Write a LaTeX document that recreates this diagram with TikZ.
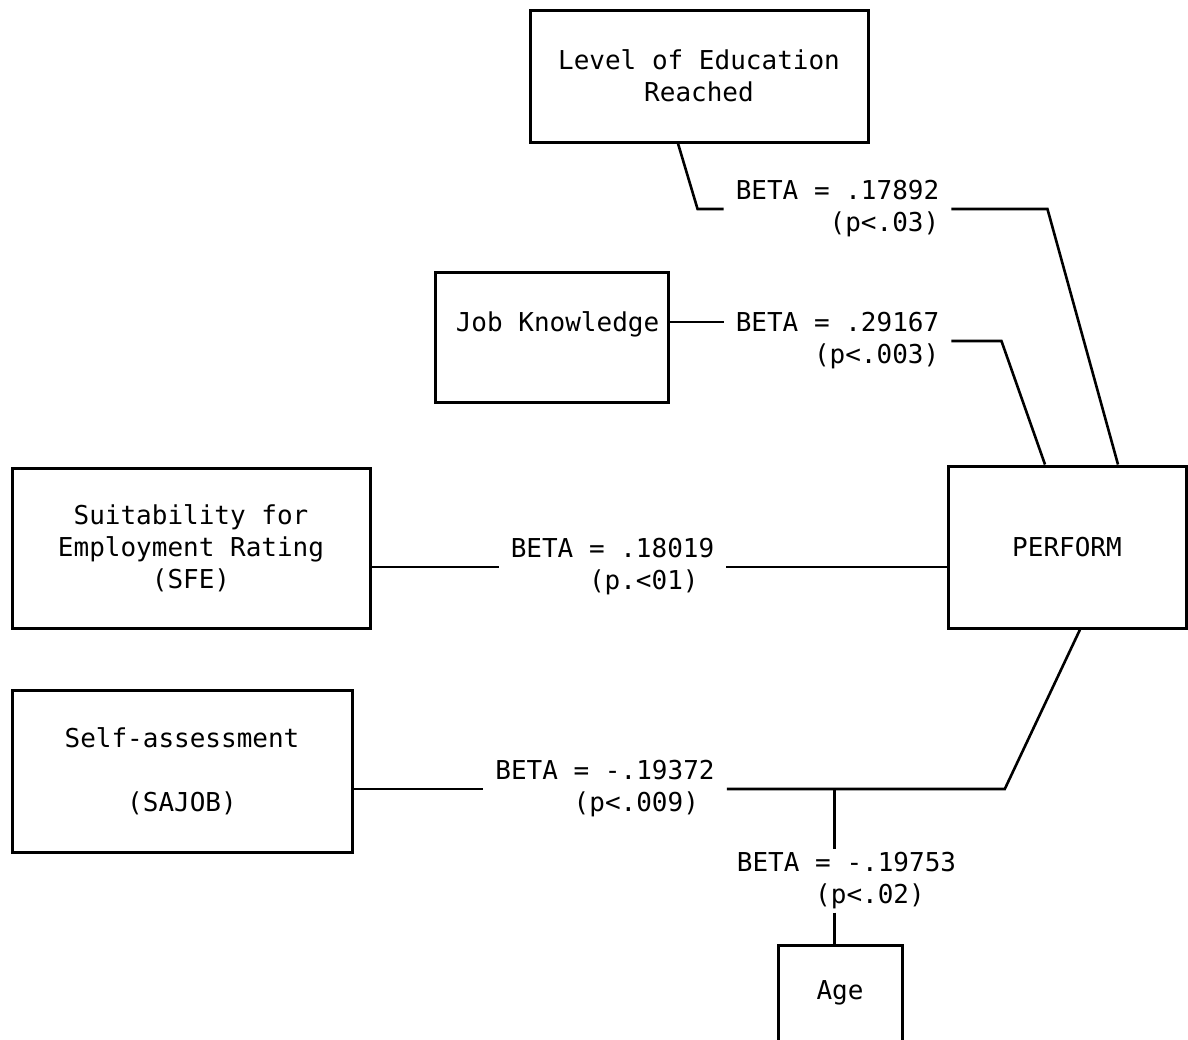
\documentclass[tikz,border=0pt]{standalone}
\usepackage{fontspec}
\setmainfont{DejaVu Sans Mono}
\usetikzlibrary{calc,positioning}
\tikzset{%
	block/.style = {draw, rectangle, line width=3pt, align=center, inner sep=0pt},
	beta/.style  = {align=right, inner xsep=12pt, inner ysep=3pt},
	link/.style  = {line width=2.6pt},
}

\begin{document}
\begin{tikzpicture}[x=1pt,y=-1pt,font=\fontsize{26}{32}\selectfont]
	\useasboundingbox (0,0) rectangle (1188,1039);
	
	% predictor boxes and the criterion
	\node[block, minimum width=338pt, minimum height=132pt] (edu) at (699,76) {Level of Education\\Reached};
	\node[block, minimum width=233pt, minimum height=130pt, text depth=30pt] (job) at (551.5,337) {\hspace*{12pt}Job Knowledge};
	\node[block, minimum width=358pt, minimum height=160pt] (sfe) at (191,548) {Suitability for\\Employment Rating\\(SFE)};
	\node[block, minimum width=340pt, minimum height=162pt] (sajob) at (182,771) {Self-assessment\\[32pt](SAJOB)};
	\node[block, minimum width=238pt, minimum height=162pt] (perform) at (1067,547) {PERFORM};
	\node[block, minimum width=124pt, minimum height=96pt] (age) at (840,993) {Age};
	
	% beta weights
	\node[beta] (b1) at (837.5,209) {BETA = .17892\\(p<.03)};
	\node[beta] (b2) at (837.5,341) {BETA = .29167\\(p<.003)};
	\node[beta] (b3) at (612.5,567) {BETA = .18019\\(p.<01)\hphantom{0}};
	\node[beta] (b4) at (605,789) {BETA = -.19372\\(p<.009)\hphantom{0}};
	\node[beta] (b5) at (846.5,881) {BETA = -.19753\\(p<.02)\hphantom{00}};
	
	\draw[link] ([xshift=-21pt]edu.south) -- ([xshift=-26pt]b1.west) -- (b1.west);
	\draw[link] (b1.east) -- ++(96,0) -- ([xshift=51pt]perform.north);
	\draw[link] ([yshift=15pt]job.east) -- ([yshift=19pt]b2.west);
	\draw[link] (b2.east) -- ++(50,0) -- ([xshift=-22pt]perform.north);
	\draw[link] (sfe.east |- b3.west) -- (b3.west);
	\draw[link] (b3.east) -- (b3.east -| perform.west);
	\draw[link] (sajob.east |- b4.west) -- (b4.west);
	\draw[link] (b4.east) -- ++(278,0) -- ([xshift=13pt]perform.south);
	\path (b4.east) ++(108,0) coordinate (jn);
	\draw[link] (jn) -- (jn |- b5.north);
	\draw[link] (jn |- b5.south) -- (jn |- age.north);
\end{tikzpicture}
\end{document}
